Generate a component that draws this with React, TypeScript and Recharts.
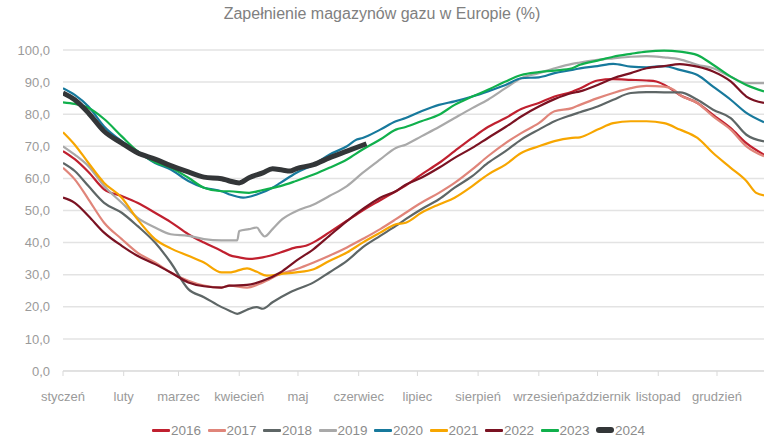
import React from 'react';
import { LineChart, Line, XAxis, YAxis, CartesianGrid, Legend } from 'recharts';

const title = 'Zapełnienie magazynów gazu w Europie (%)';
const monthTicks = [0, 31, 59, 90, 120, 151, 181, 212, 243, 273, 304, 334];
const monthLabels = ['styczeń', 'luty', 'marzec', 'kwiecień', 'maj', 'czerwiec', 'lipiec', 'sierpień', 'wrzesień', 'październik', 'listopad', 'grudzień'];
const yTicks = [0, 10, 20, 30, 40, 50, 60, 70, 80, 90, 100];
const years = ['2016', '2017', '2018', '2019', '2020', '2021', '2022', '2023', '2024'];
const colors = ['#C0202F', '#E0857A', '#5E6666', '#A9A9A9', '#17799C', '#F7A600', '#7A1222', '#10B04C', '#333638'];

// [day of year, fill %]
const s2016: [number, number][] = [[0,68.5],[6,66],[13,62],[21,56.6],[30,54.5],[38,52.4],[47,49.3],[55,46.4],[64,42.6],[72,40],[81,37.4],[85,36.1],[90,35.4],[95,34.9],[102,35.4],[111,36.9],[119,38.5],[124,39],[130,40.8],[136,43.2],[145,46.8],[153,50],[162,53.2],[170,56],[175,57.8],[183,61.2],[192,64.8],[200,68.5],[209,72.6],[217,76],[226,78.8],[234,81.6],[243,83.5],[251,85.5],[260,87],[264,88],[273,90.5],[281,90.9],[290,90.7],[298,90.5],[303,90.2],[310,88.1],[315,86],[324,83.5],[332,79.8],[341,75.7],[349,71],[358,67.4]];
const s2017: [number, number][] = [[0,63.3],[6,59.7],[13,53.5],[21,46.2],[30,41.1],[38,36.9],[47,33.8],[55,30.7],[64,28.1],[72,26.6],[81,26],[85,26.6],[94,26],[102,27.6],[111,30.2],[119,31.7],[128,33.8],[136,35.9],[145,38.5],[153,41.1],[162,44.2],[170,47.3],[175,49.3],[183,52.4],[192,55.5],[200,58.6],[209,62.8],[217,66.9],[226,71],[234,74.1],[243,77.2],[251,80.9],[260,81.9],[264,82.9],[273,85],[281,86.6],[290,88.1],[298,88.8],[307,88.6],[312,87.6],[315,86],[324,83.5],[332,79.3],[341,75.2],[349,70],[358,66.9]];
const s2018: [number, number][] = [[0,64.8],[6,62.3],[13,57.6],[21,52.4],[30,49.3],[38,45.2],[47,40],[55,33.8],[64,25.5],[72,23],[81,19.9],[85,18.8],[89,17.8],[94,19.1],[99,19.9],[102,19.4],[107,21.4],[116,24.5],[128,27.6],[136,30.7],[145,34.3],[153,38.5],[162,42.1],[170,45.2],[175,47.3],[183,50.4],[192,53.5],[200,57.1],[209,60.7],[217,64.8],[226,68.5],[234,72.1],[243,75.2],[251,77.8],[260,79.8],[264,80.6],[273,82.4],[281,84.5],[290,86.6],[298,86.9],[307,86.8],[315,86.8],[324,84.5],[332,81.4],[341,78.8],[349,73.6],[358,71.5]];
const s2019: [number, number][] = [[0,70],[6,67.4],[13,63.8],[21,57.6],[30,52.4],[38,47.8],[47,44.7],[55,42.6],[64,42.1],[72,41.1],[81,40.7],[85,40.7],[89,40.7],[90,43.6],[95,44.2],[99,44.7],[101,43.1],[103,41.9],[107,44.2],[112,47.3],[119,49.8],[128,51.9],[136,54.5],[145,57.6],[153,61.7],[162,65.9],[170,69.5],[175,70.5],[183,73.1],[192,76],[200,78.8],[209,81.9],[217,84.5],[226,88.1],[234,91.2],[243,92.8],[251,94.3],[260,95.7],[264,96.1],[273,96.9],[281,97.4],[290,97.9],[298,98.1],[307,97.7],[315,97.1],[324,95.4],[332,94.3],[341,91.7],[349,89.7],[358,89.7]];
const s2020: [number, number][] = [[0,88.1],[6,86],[13,82.4],[21,76.2],[30,71.6],[38,68.5],[47,64.8],[55,62.8],[64,59.2],[72,57.1],[81,56],[85,55],[92,54],[99,55],[107,57.1],[111,58.6],[119,61.7],[128,64.3],[136,67.4],[145,70],[150,72.1],[153,72.6],[162,75.2],[170,77.8],[175,78.8],[183,80.9],[192,82.9],[200,84],[209,85.5],[217,87.1],[226,89.1],[234,91.2],[243,91.5],[251,92.8],[260,93.8],[264,94.3],[273,95],[281,95.7],[290,94.8],[298,94.6],[307,95],[315,93.8],[324,92.2],[332,88.6],[341,84.5],[349,80.4],[358,77.5]];
const s2021: [number, number][] = [[0,74.4],[6,70.5],[13,64.8],[21,58.6],[30,54],[38,47.3],[47,41.1],[55,38.2],[64,35.9],[72,33.8],[81,30.7],[85,30.7],[94,32],[99,30.9],[104,29.7],[111,30.2],[119,30.7],[128,31.7],[136,34.3],[145,36.9],[153,40],[162,43.1],[170,45.7],[175,46.2],[183,49.3],[192,51.9],[200,54],[209,57.6],[217,61.2],[226,64.3],[234,67.9],[243,70],[251,71.6],[260,72.6],[264,72.8],[273,75.2],[281,77.2],[290,77.8],[298,77.8],[307,77.2],[315,75.2],[324,72.6],[332,67.9],[341,63.3],[349,59.2],[354,55.5],[358,54.7]];
const s2022: [number, number][] = [[0,54],[6,52.4],[13,48.3],[21,43.1],[30,39],[38,35.9],[47,33.3],[55,30.7],[64,27.6],[72,26.4],[81,26],[85,26.6],[94,26.8],[102,28.1],[111,30.7],[119,34.3],[128,38],[136,42.1],[145,46.7],[153,50.4],[162,54],[170,56],[175,58],[183,60.2],[192,63.3],[200,66.4],[209,69.5],[217,72.6],[226,76],[234,79.3],[243,82.4],[251,84.7],[260,86.6],[264,87.1],[273,89.1],[281,91.2],[290,92.8],[298,94.3],[307,95],[315,95.6],[324,94.8],[332,93.3],[341,90.2],[349,85.5],[358,83.5]];
const s2023: [number, number][] = [[0,83.7],[6,83.2],[13,81.9],[21,78.5],[30,73.1],[38,68.5],[47,65],[55,63.3],[64,60.2],[72,57.1],[81,56],[85,56],[95,55.5],[102,56.4],[111,57.6],[119,59.2],[128,61.2],[136,63.3],[145,65.9],[153,69],[162,72.1],[170,75.2],[175,76],[183,77.8],[192,79.8],[200,82.9],[209,85.5],[217,87.6],[226,90.2],[234,92.2],[243,93.1],[251,93.6],[260,94.3],[264,95.4],[273,96.7],[281,97.9],[290,98.8],[298,99.5],[307,99.8],[315,99.5],[324,98.4],[332,95.4],[341,91.7],[349,89.1],[358,87.1]];
const s2024: [number, number][] = [[0,86.6],[6,84.5],[13,80.4],[21,74.7],[30,71],[38,68],[47,66],[55,64],[64,62],[72,60.4],[81,59.9],[85,59.2],[90,58.6],[95,60.2],[102,61.7],[107,63],[112,62.6],[116,62.3],[119,63],[128,64.3],[136,66.4],[145,68.5],[155,70.8]];

const seriesData = [s2016, s2017, s2018, s2019, s2020, s2021, s2022, s2023, s2024];

const FONT = '"Liberation Sans", Arial, sans-serif';

const toPts = (s: [number, number][]) => s.map(([day, v]) => ({ day, v }));

const LegendContent = () => (
  <div style={{ display: 'flex', alignItems: 'center', paddingLeft: 152, paddingTop: 6, height: 26, boxSizing: 'border-box', fontFamily: FONT, fontSize: 13.5, color: '#8c8c8c' }}>
    {years.map((y, i) => (
      <div key={y} style={{ flex: '0 0 55.5px', display: 'flex', alignItems: 'center' }}>
        <span style={{ display: 'inline-block', width: 18, height: i === 8 ? 6 : 3, borderRadius: i === 8 ? 3 : 1, background: colors[i] }} />
        <span style={{ marginLeft: 1 }}>{y}</span>
      </div>
    ))}
  </div>
);

export default function App() {
  return (
    <div style={{ position: 'absolute', left: 0, top: 0, width: 764, height: 440, background: '#fff', overflow: 'hidden' }}>
      <div style={{ position: 'absolute', left: 0, top: 5, width: 764, textAlign: 'center', fontFamily: FONT, fontSize: 16, color: '#808080' }}>{title}</div>
      <LineChart width={764} height={440} margin={{ top: 50, right: 0, bottom: 0, left: 0 }}>
        <CartesianGrid vertical={false} stroke="#e3e3e3" strokeWidth={1.5} />
        <XAxis
          type="number"
          dataKey="day"
          domain={[0, 358]}
          ticks={monthTicks}
          tickFormatter={(d: number) => monthLabels[monthTicks.indexOf(d)] ?? ''}
          allowDataOverflow
          height={43}
          interval={0}
          tickSize={5}
          tickMargin={16}
          axisLine={{ stroke: '#d9d9d9' }}
          tickLine={{ stroke: '#d9d9d9' }}
          tick={{ fill: '#9a9a9a', fontSize: 13, fontFamily: FONT }}
        />
        <YAxis
          type="number"
          domain={[0, 100]}
          ticks={yTicks}
          interval={0}
          width={63}
          tickSize={0}
          tickMargin={13}
          axisLine={false}
          tickLine={false}
          tickFormatter={(v: number) => v.toFixed(1).replace('.', ',')}
          tick={{ fill: '#9a9a9a', fontSize: 13, fontFamily: FONT }}
        />
        <Legend verticalAlign="bottom" height={26} content={() => <LegendContent />} />
        {seriesData.map((s, i) => (
          <Line
            key={years[i]}
            name={years[i]}
            data={toPts(s)}
            dataKey="v"
            type="monotone"
            stroke={colors[i]}
            strokeWidth={i === 8 ? 5 : 2.2}
            dot={false}
            activeDot={false}
            isAnimationActive={false}
          />
        ))}
      </LineChart>
    </div>
  );
}
